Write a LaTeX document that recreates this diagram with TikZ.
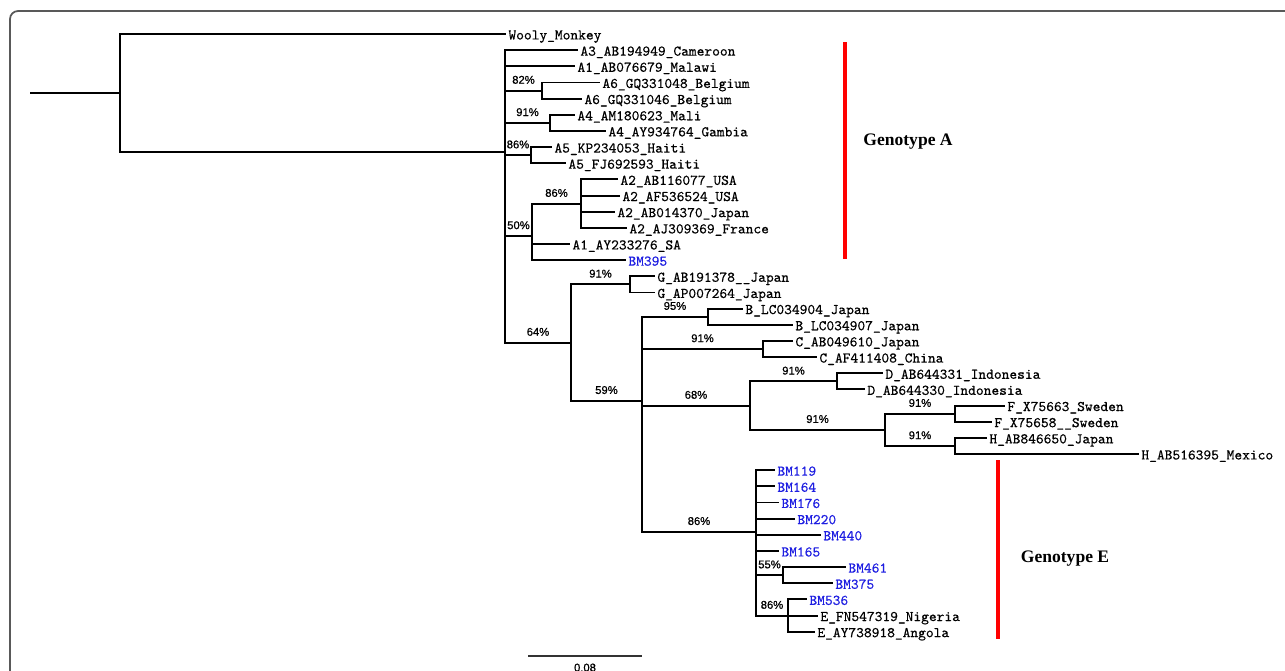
\documentclass[tikz,border=0pt]{standalone}
\usepackage{fontspec}
\newfontfamily\pctfont{Liberation Sans}[FakeBold=0.8]
\newfontfamily\genofont{Liberation Serif}
\newfontfamily\leaffont{lmmono10-regular.otf}[FakeBold=0.5]
\definecolor{bmblue}{RGB}{30,30,225}
\tikzset{
  branch/.style={line width=1.1pt, draw=black},
  leaf/.style={anchor=west, inner sep=1.2pt, text height=0.62em, text depth=0pt,
    font=\leaffont\fontsize{8.4}{10}\selectfont},
  bmleaf/.style={leaf, text=bmblue},
  support/.style={pos=0.75, yshift=0.215cm, inner sep=0pt,
    font=\pctfont\fontsize{6.4}{7}\selectfont},
  cladebar/.style={line width=2.3pt, draw=red},
  cladelabel/.style={font=\genofont\bfseries\fontsize{10}{12}\selectfont},
  scalebar/.style={line width=0.6pt, draw=black!80},
  frame/.style={draw=black!65, line width=1pt, rounded corners=0.16cm},
}

\begin{document}
\begin{tikzpicture}[x=0.02cm, y=-0.02cm]
\useasboundingbox (0,0) rectangle (1285,670);
\draw[frame] (10,700) -- (10,11) -- (1300,11);

% internal nodes
\coordinate (stem) at (30,93);
\coordinate (r) at (120,93);
\coordinate (n0) at (505,152);
\coordinate (n82) at (542,90.6);
\coordinate (n91a) at (550,122.9);
\coordinate (n86a) at (531,155.2);
\coordinate (n50) at (532,236);
\coordinate (n86b) at (581,203.7);
\coordinate (n64) at (571,342.6);
\coordinate (nG) at (630,284.4);
\coordinate (n59) at (642,400.8);
\coordinate (nB) at (708,316.7);
\coordinate (nC) at (763,349);
\coordinate (n68) at (750,405.6);
\coordinate (nD) at (837,381.4);
\coordinate (nFH) at (885,429.8);
\coordinate (nF) at (955,413.7);
\coordinate (nH) at (955,446);
\coordinate (nE) at (756,531.8);
\coordinate (n55) at (783,575.2);
\coordinate (nE2) at (788,615.6);

% leaves
\node[leaf] (wooly) at (506,34) {Wooly\_Monkey};
\node[leaf] (a3) at (578,50.2) {A3\_AB194949\_Cameroon};
\node[leaf] (a1m) at (575,66.3) {A1\_AB076679\_Malawi};
\node[leaf] (a6a) at (600,82.5) {A6\_GQ331048\_Belgium};
\node[leaf] (a6b) at (582,98.6) {A6\_GQ331046\_Belgium};
\node[leaf] (a4a) at (575,114.8) {A4\_AM180623\_Mali};
\node[leaf] (a4b) at (606,130.9) {A4\_AY934764\_Gambia};
\node[leaf] (a5a) at (552,147.1) {A5\_KP234053\_Haiti};
\node[leaf] (a5b) at (566,163.2) {A5\_FJ692593\_Haiti};
\node[leaf] (a2a) at (618,179.4) {A2\_AB116077\_USA};
\node[leaf] (a2b) at (620,195.6) {A2\_AF536524\_USA};
\node[leaf] (a2c) at (615,211.7) {A2\_AB014370\_Japan};
\node[leaf] (a2d) at (627,227.9) {A2\_AJ309369\_France};
\node[leaf] (a1s) at (570,244) {A1\_AY233276\_SA};
\node[bmleaf] (bm395) at (626,260.2) {BM395};
\node[leaf] (ga) at (655,276.3) {G\_AB191378\_\_Japan};
\node[leaf] (gb) at (655,292.5) {G\_AP007264\_Japan};
\node[leaf] (ba) at (743,308.6) {B\_LC034904\_Japan};
\node[leaf] (bb) at (793,324.8) {B\_LC034907\_Japan};
\node[leaf] (ca) at (793,340.9) {C\_AB049610\_Japan};
\node[leaf] (cb) at (817,357.1) {C\_AF411408\_China};
\node[leaf] (da) at (883,373.3) {D\_AB644331\_Indonesia};
\node[leaf] (db) at (865,389.4) {D\_AB644330\_Indonesia};
\node[leaf] (fa) at (1005,405.6) {F\_X75663\_Sweden};
\node[leaf] (fb) at (992,421.7) {F\_X75658\_\_Sweden};
\node[leaf] (ha) at (987,437.9) {H\_AB846650\_Japan};
\node[leaf] (hb) at (1139,454) {H\_AB516395\_Mexico};
\node[bmleaf] (bm119) at (775,470.2) {BM119};
\node[bmleaf] (bm164) at (775,486.3) {BM164};
\node[bmleaf] (bm176) at (779,502.5) {BM176};
\node[bmleaf] (bm220) at (795,518.7) {BM220};
\node[bmleaf] (bm440) at (821,534.8) {BM440};
\node[bmleaf] (bm165) at (779,551) {BM165};
\node[bmleaf] (bm461) at (846,567.1) {BM461};
\node[bmleaf] (bm375) at (833,583.3) {BM375};
\node[bmleaf] (bm536) at (807,599.4) {BM536};
\node[leaf] (efn) at (818,615.6) {E\_FN547319\_Nigeria};
\node[leaf] (eay) at (815,631.7) {E\_AY738918\_Angola};

% branches
\draw[branch] (stem) -- (r);
\draw[branch] (r) |- (wooly.west);
\draw[branch] (r) |- (n0);
\draw[branch] (n0) |- (a3.west);
\draw[branch] (n0) |- (a1m.west);
\draw[branch] (n0) |- (n82) node[support] {82\%};
\draw[branch] (n82) |- (a6a.west);
\draw[branch] (n82) |- (a6b.west);
\draw[branch] (n0) |- (n91a) node[support] {91\%};
\draw[branch] (n91a) |- (a4a.west);
\draw[branch] (n91a) |- (a4b.west);
\draw[branch] (n0) |- (n86a) node[support] {86\%};
\draw[branch] (n86a) |- (a5a.west);
\draw[branch] (n86a) |- (a5b.west);
\draw[branch] (n0) |- (n50) node[support] {50\%};
\draw[branch] (n50) |- (n86b) node[support] {86\%};
\draw[branch] (n86b) |- (a2a.west);
\draw[branch] (n86b) |- (a2b.west);
\draw[branch] (n86b) |- (a2c.west);
\draw[branch] (n86b) |- (a2d.west);
\draw[branch] (n50) |- (a1s.west);
\draw[branch] (n50) |- (bm395.west);
\draw[branch] (n0) |- (n64) node[support] {64\%};
\draw[branch] (n64) |- (nG) node[support] {91\%};
\draw[branch] (nG) |- (ga.west);
\draw[branch] (nG) |- (gb.west);
\draw[branch] (n64) |- (n59) node[support] {59\%};
\draw[branch] (n59) |- (nB) node[support] {95\%};
\draw[branch] (nB) |- (ba.west);
\draw[branch] (nB) |- (bb.west);
\draw[branch] (n59) |- (nC) node[support] {91\%};
\draw[branch] (nC) |- (ca.west);
\draw[branch] (nC) |- (cb.west);
\draw[branch] (n59) |- (n68) node[support] {68\%};
\draw[branch] (n68) |- (nD) node[support] {91\%};
\draw[branch] (nD) |- (da.west);
\draw[branch] (nD) |- (db.west);
\draw[branch] (n68) |- (nFH) node[support] {91\%};
\draw[branch] (nFH) |- (nF) node[support] {91\%};
\draw[branch] (nF) |- (fa.west);
\draw[branch] (nF) |- (fb.west);
\draw[branch] (nFH) |- (nH) node[support] {91\%};
\draw[branch] (nH) |- (ha.west);
\draw[branch] (nH) |- (hb.west);
\draw[branch] (n59) |- (nE) node[support] {86\%};
\draw[branch] (nE) |- (bm119.west);
\draw[branch] (nE) |- (bm164.west);
\draw[branch] (nE) |- (bm176.west);
\draw[branch] (nE) |- (bm220.west);
\draw[branch] (nE) |- (bm440.west);
\draw[branch] (nE) |- (bm165.west);
\draw[branch] (nE) |- (n55) node[support] {55\%};
\draw[branch] (n55) |- (bm461.west);
\draw[branch] (n55) |- (bm375.west);
\draw[branch] (nE) |- (nE2) node[support] {86\%};
\draw[branch] (nE2) |- (bm536.west);
\draw[branch] (nE2) |- (efn.west);
\draw[branch] (nE2) |- (eay.west);

% genotype bars
\draw[cladebar] (845,42) -- (845,259);
\node[cladelabel] (genoA) at (908,142) {Genotype A};
\draw[cladebar] (998,460) -- (998,639);
\node[cladelabel] (genoE) at (1065,559) {Genotype E};

% scale
\draw[scalebar] (528,656) -- (642,656);
\node[anchor=base, inner sep=0pt, font=\pctfont\fontsize{6.4}{7}\selectfont] (scale) at (585,671.5) {0.08};
\end{tikzpicture}
\end{document}
